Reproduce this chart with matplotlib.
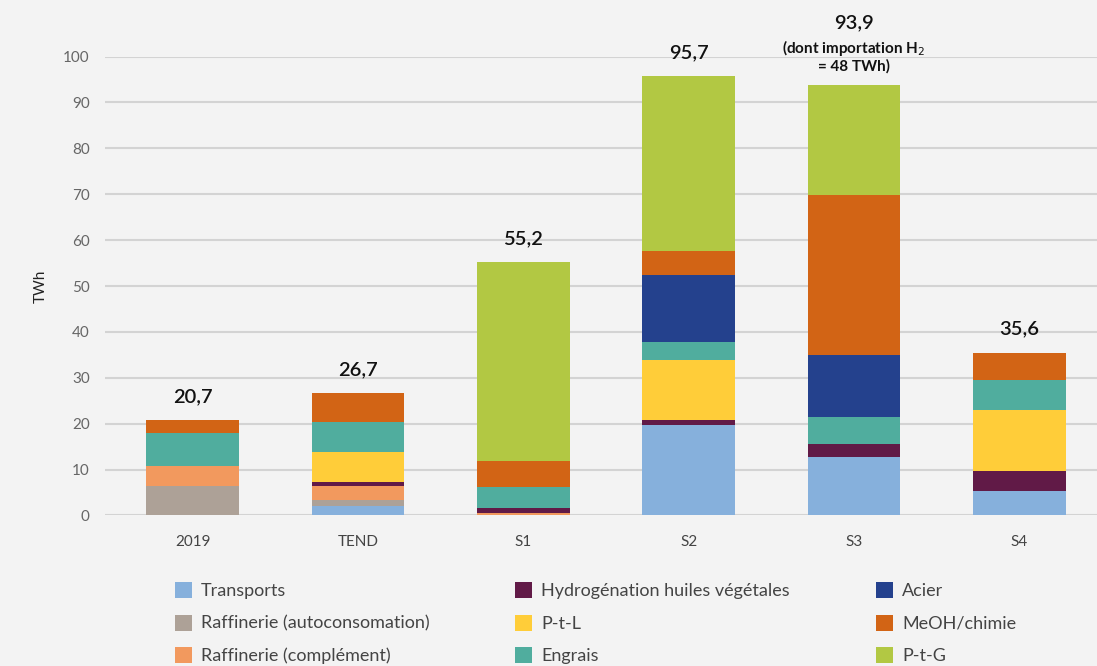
import numpy as np
import matplotlib.pyplot as plt
from matplotlib.patches import Patch

plt.rcParams['font.family'] = ['Lato', 'DejaVu Sans']

scenarios = ['2019', 'TEND', 'S1', 'S2', 'S3', 'S4']
totals = ['20,7', '26,7', '55,2', '95,7', '93,9', '35,6']

# TWh per usage, bottom to top
transports  = [0.0, 2.1, 0.0, 19.7, 12.7, 5.3]
raff_auto   = [6.4, 1.3, 0.0, 0.0, 0.0, 0.0]
raff_compl  = [4.4, 3.0, 0.5, 0.0, 0.0, 0.0]
hydrog      = [0.0, 1.0, 1.1, 1.1, 2.9, 4.4]
ptl         = [0.0, 6.4, 0.0, 13.1, 0.0, 13.3]
engrais     = [7.2, 6.6, 4.5, 3.9, 5.9, 6.6]
acier       = [0.0, 0.0, 0.0, 14.6, 13.4, 0.0]
meoh        = [2.7, 6.3, 5.8, 5.2, 34.9, 5.9]
ptg         = [0.0, 0.0, 43.3, 38.1, 24.1, 0.0]

series = [
    ('Transports', transports, '#86B0DC'),
    ('Raffinerie (autoconsomation)', raff_auto, '#ADA197'),
    ('Raffinerie (complément)', raff_compl, '#F2995E'),
    ('Hydrogénation huiles végétales', hydrog, '#611A47'),
    ('P-t-L', ptl, '#FFCD39'),
    ('Engrais', engrais, '#50AD9E'),
    ('Acier', acier, '#24418D'),
    ('MeOH/chimie', meoh, '#D26415'),
    ('P-t-G', ptg, '#B2C843'),
]

bg = '#F3F3F3'
fig = plt.figure(figsize=(10.97, 6.66), dpi=100, facecolor=bg)
ax = fig.add_axes([0.0957, 0.226, 0.9043, 0.689], facecolor=bg)

x = np.arange(len(scenarios))
bottom = np.zeros(len(scenarios))
handles = []
for name, vals, col in series:
    vals = np.array(vals)
    ax.bar(x, vals, 0.56, bottom=bottom, color=col, zorder=3)
    bottom += vals
    handles.append(Patch(facecolor=col, label=name))

for i, t in enumerate(totals):
    y = bottom[i] + (11.6 if i == 4 else 3.3)
    ax.text(x[i], y, t, ha='center', va='bottom', fontsize=14.5,
            fontweight='semibold', color='#111111', clip_on=False)
ax.text(x[4], bottom[4] + 2.5, '(dont importation H$_2$\n= 48 TWh)', ha='center',
        va='bottom', fontsize=11, fontweight='bold', color='#111111',
        linespacing=1.05, clip_on=False)

ax.set_xlim(-0.53, 5.47)
ax.set_ylim(0, 100)
ax.set_yticks(np.arange(0, 101, 10))
ax.set_xticks(x)
ax.set_xticklabels(scenarios)
ax.tick_params(axis='y', length=0, pad=11, labelsize=11, labelcolor='#666666')
ax.tick_params(axis='x', length=0, pad=14, labelsize=11, labelcolor='#444444')
ax.grid(axis='y', color='#D3D3D3', linewidth=1.5, zorder=0)
for s in ax.spines.values():
    s.set_visible(False)
ax.set_ylabel('TWh', fontsize=11, color='#222222', labelpad=11)

fig.legend(handles=handles, ncol=3, loc='upper left',
           bbox_to_anchor=(0.1526, 0.137), frameon=False, fontsize=13,
           labelcolor='#444444', handlelength=0.95, handleheight=1.0,
           handletextpad=0.5, columnspacing=4.75, labelspacing=0.85,
           borderaxespad=0)

plt.savefig('out.png', format='png', facecolor=bg)
